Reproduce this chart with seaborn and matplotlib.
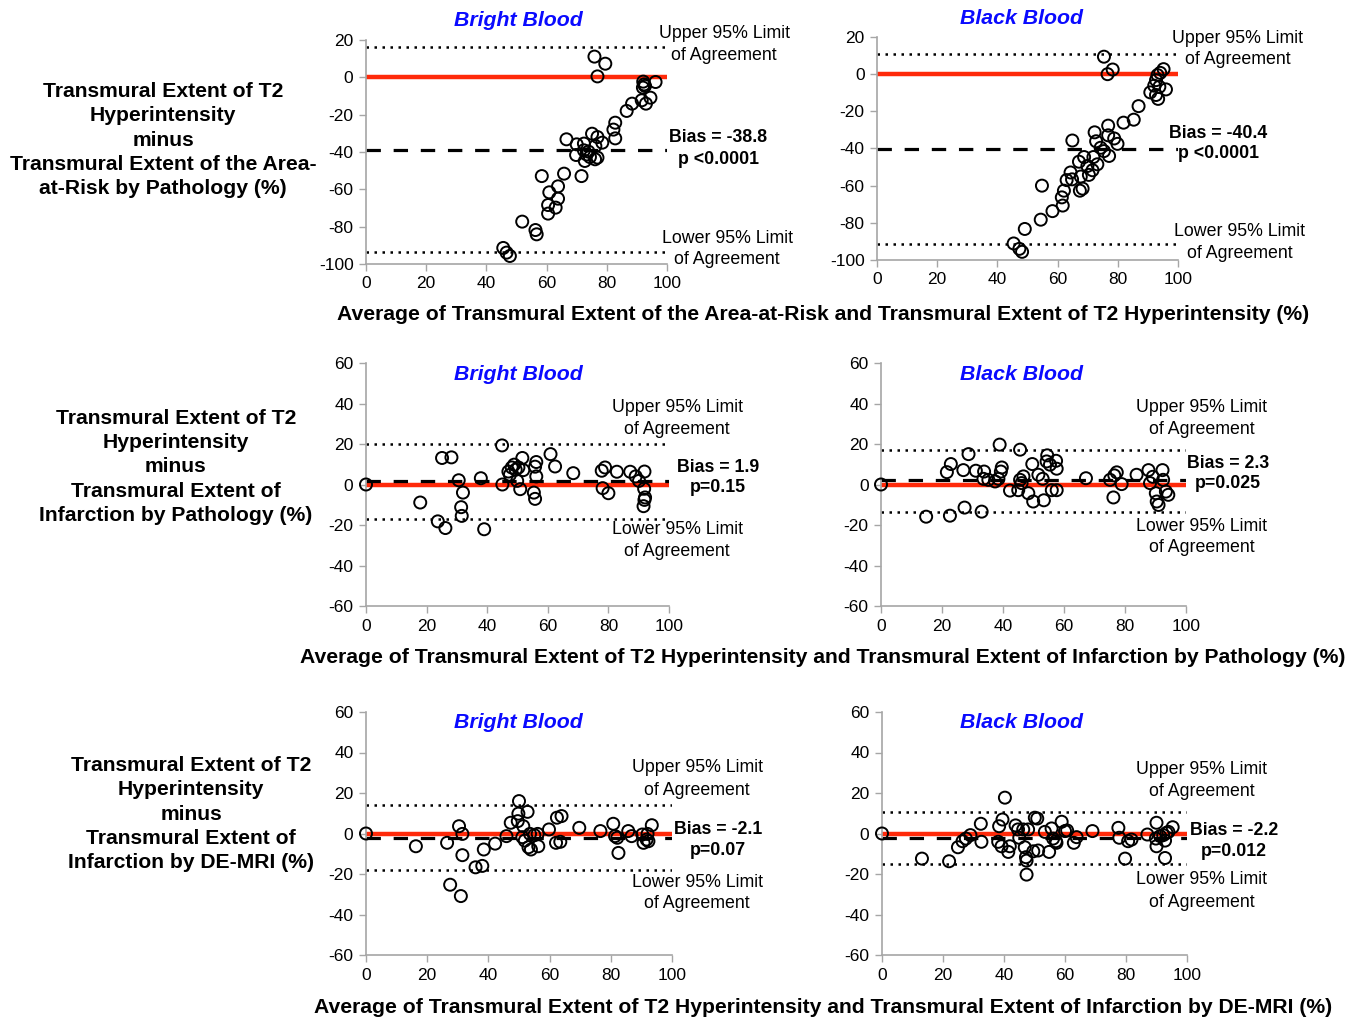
import matplotlib
matplotlib.use('Agg')
import matplotlib.pyplot as plt
import seaborn as sns
import numpy as np
import pandas as pd

# ---- data ----
# top row: T2 minus area-at-risk
bb_aar_x = [75.9, 79.5, 76.9, 92.1, 92.4, 92.7, 92.0, 96.2, 94.5, 91.6, 93.0, 88.4, 86.6, 82.8, 82.2,
            82.8, 75.1, 76.9, 78.5, 66.6, 70.0, 72.4, 76.2, 72.4, 73.9, 69.8, 74.4, 76.1, 76.9, 72.7,
            73.3, 65.8, 71.6, 58.4, 63.8, 60.9, 63.8, 60.5, 63.0, 60.5, 51.9, 56.3, 56.7, 45.6, 46.7, 47.8]
bb_aar_y = [11.1, 7.3, 0.5, -2.3, -3.8, -4.6, -5.5, -2.5, -10.9, -12.3, -14.1, -14.1, -18.0, -24.3, -28.0,
            -32.7, -30.2, -32.0, -35.0, -33.2, -35.9, -35.5, -36.8, -39.1, -39.8, -41.6, -42.7, -43.9, -43.0, -44.8,
            -41.3, -51.6, -52.9, -52.9, -58.4, -61.6, -65.0, -68.4, -69.8, -73.0, -77.3, -81.8, -84.1, -91.4, -93.9, -95.7]
kb_aar_x = [75.4, 76.6, 78.3, 95.2, 94.1, 93.2, 92.7, 92.1, 93.8, 96.0, 90.8, 92.7, 93.4, 86.9, 85.3,
            81.9, 76.8, 76.8, 72.3, 72.8, 78.8, 79.9, 64.9, 74.3, 75.4, 77.1, 71.9, 68.8, 67.1, 69.9,
            73.2, 71.6, 70.4, 67.7, 64.3, 63.0, 64.8, 68.3, 67.4, 62.1, 61.4, 61.7, 54.8, 58.3, 54.4,
            49.1, 45.4, 47.3, 48.2]
kb_aar_y = [9.4, 0.0, 2.5, 2.7, 0.7, -0.5, -3.2, -6.2, -6.8, -8.2, -9.8, -11.2, -13.3, -17.2, -24.5,
            -26.1, -27.7, -32.9, -31.3, -36.1, -34.6, -37.5, -35.7, -39.6, -41.4, -44.0, -44.6, -44.6, -47.1, -49.4,
            -48.5, -51.7, -54.2, -55.1, -52.9, -57.0, -56.6, -61.6, -62.7, -62.7, -66.3, -70.7, -60.0, -73.7, -78.3,
            -83.3, -91.1, -94.0, -95.6]

# middle row: T2 minus infarction by pathology
bb_pat_x = [0.0, 17.9, 25.1, 28.2, 30.6, 32.0, 31.4, 31.6, 23.7, 26.2, 37.9, 39.0, 44.9, 45.0, 47.0,
            47.5, 48.1, 48.9, 49.4, 50.3, 51.6, 51.9, 49.9, 50.9, 55.4, 55.8, 56.2, 55.8, 56.2, 60.9,
            62.4, 68.4, 77.8, 78.9, 78.1, 80.0, 82.8, 87.2, 89.0, 90.1, 91.9, 91.8, 92.1, 91.9, 91.6]
bb_pat_y = [0.0, -8.9, 13.1, 13.4, 2.1, -4.0, -11.2, -15.5, -18.2, -21.5, 3.1, -22.1, 19.3, 0.0, 6.4,
            4.8, 8.4, 9.8, 7.3, 8.4, 13.1, 7.1, 1.8, -2.3, -4.0, -7.1, 11.1, 8.8, 4.0, 15.0,
            8.9, 5.6, 6.8, 8.4, -1.8, -4.3, 6.3, 6.3, 4.0, 1.8, 6.4, -2.1, -6.4, -7.6, -10.7]
kb_pat_x = [0.0, 14.8, 22.6, 21.6, 22.9, 27.0, 28.7, 27.4, 33.0, 31.1, 33.8, 33.6, 35.2, 37.4, 38.5,
            39.3, 39.6, 38.9, 42.3, 45.0, 45.6, 45.6, 46.1, 46.7, 48.3, 49.6, 49.9, 51.6, 53.0, 53.4,
            54.5, 54.3, 55.4, 57.4, 57.6, 56.0, 57.6, 67.2, 75.1, 76.2, 76.5, 77.3, 78.9, 83.8, 87.7,
            89.1, 88.2, 92.3, 92.5, 90.1, 90.4, 91.0, 93.4, 94.2]
kb_pat_y = [0.0, -15.9, -15.4, 6.1, 10.1, 7.1, 15.0, -11.4, -13.4, 6.8, 6.4, 2.8, 2.3, 1.5, 2.8,
            6.4, 8.4, 19.7, -3.0, -2.8, 17.2, 2.3, 0.7, 4.0, -4.3, 10.1, -8.4, 4.8, 2.8, -7.8,
            14.4, 11.4, 9.8, 11.7, 7.8, -2.8, -2.8, 3.1, 2.3, -6.4, 4.5, 6.0, 0.2, 4.8, 7.1,
            3.8, 0.7, 7.1, 2.3, -4.3, -8.4, -10.1, -3.5, -5.1]

# bottom row: T2 minus infarction by DE-MRI
bb_de_x = [0.0, 16.3, 26.5, 30.4, 31.5, 31.5, 27.5, 31.0, 35.8, 38.0, 38.5, 42.2, 45.9, 47.3, 49.6,
           49.8, 50.0, 52.8, 51.4, 51.1, 51.9, 53.1, 53.6, 53.9, 55.0, 56.1, 56.3, 59.8, 62.1, 63.5,
           62.4, 63.9, 69.7, 76.6, 80.8, 81.4, 82.5, 82.1, 85.7, 86.8, 90.3, 90.7, 91.7, 92.3, 92.0, 93.4]
bb_de_y = [0.0, -6.3, -4.6, 3.6, -0.2, -10.7, -25.3, -30.9, -16.7, -16.0, -7.9, -5.0, -1.3, 5.3, 6.1,
           9.8, 16.0, 10.7, 3.6, -1.8, -3.5, -6.8, -0.2, -7.9, -0.8, -0.2, -6.3, 2.0, -4.6, -4.1,
           7.8, 8.6, 2.8, 1.2, 4.8, -1.3, -9.6, -2.1, 1.2, -1.3, -0.5, -4.6, -3.0, -3.8, -0.2, 4.1]
kb_de_x = [0.0, 13.1, 22.0, 24.9, 26.4, 27.5, 29.0, 32.4, 32.6, 38.4, 39.5, 38.1, 39.2, 41.4, 41.9,
           40.3, 43.8, 44.6, 45.0, 46.3, 47.9, 46.8, 47.2, 47.4, 47.4, 50.1, 50.9, 49.6, 51.2, 53.4,
           54.8, 55.6, 56.1, 57.0, 57.2, 58.9, 60.0, 60.7, 62.9, 63.8, 69.0, 77.5, 77.8, 80.7, 81.8,
           79.7, 87.0, 90.0, 89.8, 90.0, 91.2, 92.2, 92.8, 93.3, 93.9, 95.3, 92.8]
kb_de_y = [0.0, -12.4, -13.7, -6.8, -3.8, -2.5, -0.8, 4.8, -4.1, 3.6, 6.9, -4.1, -6.3, -9.1, -6.3,
           17.7, 4.0, 2.0, -2.1, 2.0, 2.0, -6.8, -11.7, -13.4, -20.3, 7.8, 7.4, -8.8, -8.4, 0.8,
           -9.1, 2.5, -2.5, -3.8, -4.6, 5.8, 1.2, 1.5, -4.6, -1.8, 1.2, 2.8, -2.1, -3.8, -3.0,
           -12.4, -0.5, 5.3, -2.5, -6.3, -1.3, -0.8, -3.5, 0.3, 0.8, 3.1, -12.1]

# bias and limits of agreement: [bias, upper, lower]
bb_aar_lines = [-38.8, 16.3, -93.4]
kb_aar_lines = [-40.4, 11.0, -91.3]
bb_pat_lines = [1.9, 20.2, -16.9]
kb_pat_lines = [2.3, 17.2, -13.4]
bb_de_lines = [-2.1, 14.2, -18.2]
kb_de_lines = [-2.2, 10.7, -15.0]

bias_labels = ['Bias = -38.8', 'Bias = -40.4', 'Bias = 1.9', 'Bias = 2.3', 'Bias = -2.1', 'Bias = -2.2']
p_labels = ['p <0.0001', 'p <0.0001', 'p=0.15', 'p=0.025', 'p=0.07', 'p=0.012']
titles = ['Bright Blood', 'Black Blood']

ylabels = [
    'Transmural Extent of T2\nHyperintensity\nminus\nTransmural Extent of the Area-\nat-Risk by Pathology (%)',
    'Transmural Extent of T2\nHyperintensity\nminus\nTransmural Extent of\nInfarction by Pathology (%)',
    'Transmural Extent of T2\nHyperintensity\nminus\nTransmural Extent of\nInfarction by DE-MRI (%)',
]
xlabels = [
    'Average of Transmural Extent of the Area-at-Risk and Transmural Extent of T2 Hyperintensity (%)',
    'Average of Transmural Extent of T2 Hyperintensity and Transmural Extent of Infarction by Pathology (%)',
    'Average of Transmural Extent of T2 Hyperintensity and Transmural Extent of Infarction by DE-MRI (%)',
]

sns.set_theme(style='white')
plt.rcParams['font.family'] = ['Liberation Sans', 'DejaVu Sans']
plt.rcParams['text.color'] = 'black'
plt.rcParams['axes.unicode_minus'] = False

W, H = 1361, 1022
fig = plt.figure(figsize=(W / 100, H / 100), dpi=100)


def box(l, r, t, b):
    return [l / W, 1 - b / H, (r - l) / W, (b - t) / H]


def ftext(x, y, s, **kw):
    fig.text(x / W, 1 - y / H, s, ha='center', va='center', **kw)


panels = [
    dict(x=bb_aar_x, y=bb_aar_y, lines=bb_aar_lines, box=(366, 667, 40, 264), ylim=(-100, 20)),
    dict(x=kb_aar_x, y=kb_aar_y, lines=kb_aar_lines, box=(877, 1178, 37, 260), ylim=(-100, 20)),
    dict(x=bb_pat_x, y=bb_pat_y, lines=bb_pat_lines, box=(366, 669, 363, 606), ylim=(-60, 60)),
    dict(x=kb_pat_x, y=kb_pat_y, lines=kb_pat_lines, box=(881, 1186, 363, 606), ylim=(-60, 60)),
    dict(x=bb_de_x, y=bb_de_y, lines=bb_de_lines, box=(366, 672, 712, 955), ylim=(-60, 60)),
    dict(x=kb_de_x, y=kb_de_y, lines=kb_de_lines, box=(882, 1187, 712, 955), ylim=(-60, 60)),
]

# text anchor positions (pixels): title, upper, bias, lower
text_pos = [
    dict(title=(518, 20), upper=(724, 34), bias=(718, 138), lower=(727, 238)),
    dict(title=(1022, 18), upper=(1238, 38), bias=(1218, 133), lower=(1240, 231)),
    dict(title=(518, 374), upper=(677, 407), bias=(718, 467), lower=(677, 529)),
    dict(title=(1022, 374), upper=(1202, 407), bias=(1228, 463), lower=(1202, 526)),
    dict(title=(518, 723), upper=(697, 768), bias=(718, 829), lower=(697, 882)),
    dict(title=(1022, 723), upper=(1202, 769), bias=(1234, 830), lower=(1202, 880)),
]

for i, p in enumerate(panels):
    ax = fig.add_axes(box(*p['box']))
    bias, upper, lower = p['lines']
    ax.hlines([upper, lower], 0, 100, colors='black', linestyles=(0, (1, 2.2)), linewidth=1.8, zorder=2)
    ax.hlines(0, 0, 100, colors='#ff2a0a', linewidth=3.2, zorder=2)
    ax.hlines(bias, 0, 100, colors='black', linestyles=(0, (4.5, 4)), linewidth=2.3, zorder=2)
    df = pd.DataFrame({'avg': p['x'], 'diff': p['y']})
    sns.scatterplot(data=df, x='avg', y='diff', ax=ax, marker='o', s=75, fc='none', ec='black',
                    linewidth=1.4, zorder=3, clip_on=False)
    ax.set_xlim(0, 100)
    ax.set_ylim(*p['ylim'])
    ax.set_xticks(np.arange(0, 101, 20))
    ax.set_yticks(np.arange(p['ylim'][0], p['ylim'][1] + 1, 20))
    ax.set_xlabel('')
    ax.set_ylabel('')
    for s in ['top', 'right']:
        ax.spines[s].set_visible(False)
    for s in ['left', 'bottom']:
        ax.spines[s].set_color('#a6a6a6')
        ax.spines[s].set_linewidth(1.2)
    ax.tick_params(axis='both', which='both', direction='out', length=5, width=1.0, color='#a6a6a6',
                   labelsize=12.5, labelcolor='black', left=True, bottom=True, pad=4)
    ax.patch.set_alpha(0)

    tp = text_pos[i]
    ftext(*tp['title'], titles[i % 2], color='#0a0aff', fontsize=15.3, fontweight='bold', fontstyle='italic')
    ftext(tp['upper'][0], tp['upper'][1], 'Upper 95% Limit', fontsize=12.8)
    ftext(tp['upper'][0], tp['upper'][1] + 22, 'of Agreement', fontsize=12.8)
    ftext(tp['lower'][0], tp['lower'][1], 'Lower 95% Limit', fontsize=12.8)
    ftext(tp['lower'][0], tp['lower'][1] + 22, 'of Agreement', fontsize=12.8)
    ftext(tp['bias'][0], tp['bias'][1], bias_labels[i], fontsize=12.8, fontweight='bold')
    ftext(tp['bias'][0], tp['bias'][1] + 21, p_labels[i], fontsize=12.8, fontweight='bold')

# row labels
ylab_pos = [(163, 140), (176, 467), (191, 814)]
for (x, y), s in zip(ylab_pos, ylabels):
    ftext(x, y, s, fontsize=15.2, fontweight='bold', linespacing=1.36)

xlab_pos = [(823, 315), (823, 657), (823, 1007)]
for (x, y), s in zip(xlab_pos, xlabels):
    ftext(x, y, s, fontsize=15.2, fontweight='bold')

plt.savefig('out.png', dpi=100)
